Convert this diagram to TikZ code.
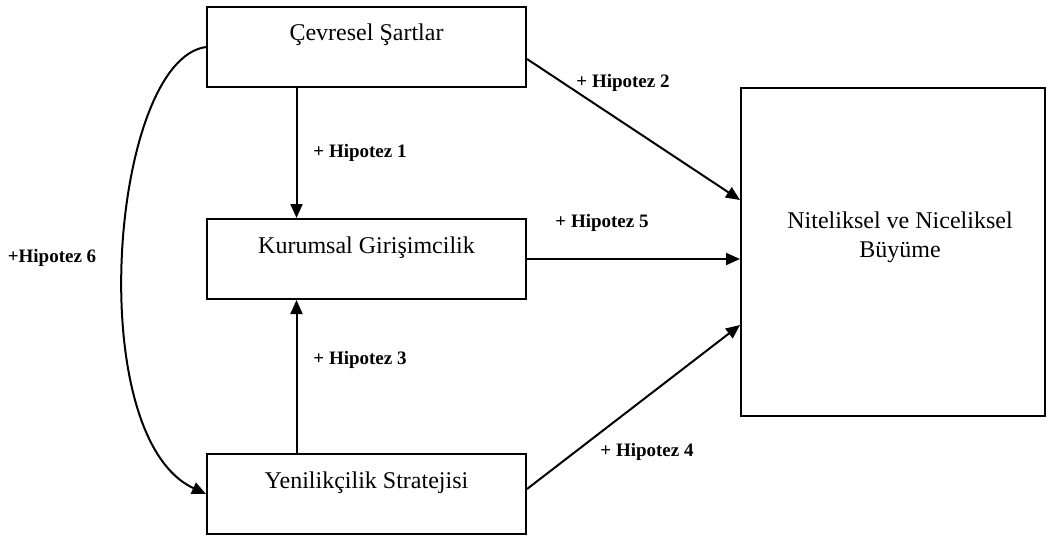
\documentclass[tikz,border=0pt]{standalone}
\usepackage{fontspec}
\setmainfont{Liberation Serif}
\usetikzlibrary{arrows.meta,positioning}

\begin{document}
\begin{tikzpicture}[x=0.5pt, y=-0.5pt,
    kutu/.style={draw, line width=1pt, minimum width=159.5pt, minimum height=40pt, inner sep=3pt, text height=14pt, text depth=20pt, font=\fontsize{12}{14}\selectfont},
    hip/.style={font=\fontsize{9.5}{11}\selectfont\bfseries, inner sep=1pt},
    ok/.style={-{Triangle[length=7pt,width=6pt]}, line width=1pt}
]
\useasboundingbox (0,0) rectangle (1048,535);
\node[kutu] (cevre) at (366.5,47) {Çevresel Şartlar};
\node[kutu, below=65pt of cevre] (kurum) {Kurumsal Girişimcilik};
\node[kutu, below=76.5pt of kurum] (yenilik) {Yenilikçilik Stratejisi};
\node[draw, line width=1pt, minimum width=152pt, minimum height=164pt] (buyume) at (893,252) {};
\node[align=center, font=\fontsize{12}{14.5}\selectfont] (buyumeyazi) at (900,237.5) {Niteliksel ve Niceliksel\\Büyüme};
\draw[ok] ([xshift=-35pt]cevre.south) -- ([xshift=-35pt]kurum.north);
\draw[ok] ([xshift=-35pt]yenilik.north) -- ([xshift=-35pt]kurum.south);
\draw[ok] ([yshift=-6pt]cevre.east) -- ([yshift=26pt]buyume.west);
\draw[ok] (kurum.east) -- (kurum.east -| buyume.west);
\draw[ok] ([yshift=2.5pt]yenilik.east) -- ([yshift=-36.5pt]buyume.west);
\draw[ok] (cevre.west) .. controls +(-95,13) and +(-125,-58) .. (yenilik.west);
\node[hip] (h1) at (360,153) {+ Hipotez 1};
\node[hip] (h2) at (623,83) {+ Hipotez 2};
\node[hip] (h3) at (360,360) {+ Hipotez 3};
\node[hip] (h4) at (647,452) {+ Hipotez 4};
\node[hip] (h5) at (602,223) {+ Hipotez 5};
\node[hip] (h6) at (52,258) {+Hipotez 6};
\end{tikzpicture}
\end{document}
